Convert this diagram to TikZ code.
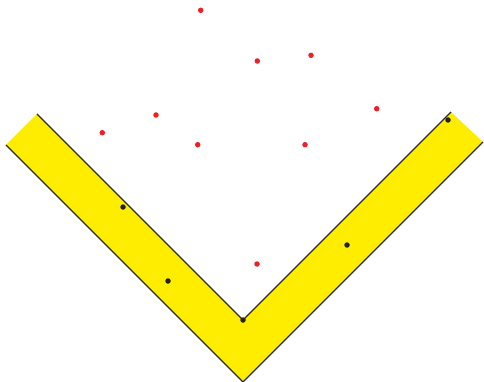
\documentclass[tikz,border=0pt]{standalone}
\begin{document}
\begin{tikzpicture}[x=1pt,y=-1pt,
  band/.style={fill=bandyellow,draw=none},
  edge/.style={draw=edgegray,line width=1.3pt},
  reddot/.style={circle,fill=dotred,inner sep=0pt,minimum size=5.5pt},
  blackdot/.style={circle,fill=dotblack,inner sep=0pt,minimum size=5.5pt}]
\definecolor{bandyellow}{HTML}{FFED00}
\definecolor{edgegray}{HTML}{2A2A2A}
\definecolor{dotred}{HTML}{EE2026}
\definecolor{dotblack}{HTML}{222222}
\useasboundingbox (0,0) rectangle (484,382);
% band corners
\coordinate (ol) at (6,145);
\coordinate (ob) at (243,382);
\coordinate (or) at (483,142);
\coordinate (il) at (37,114);
\coordinate (ib) at (243,320);
\coordinate (ir) at (451,112);
\fill[band] (ol) -- (ob) -- (or) -- (ir) -- (ib) -- (il) -- cycle;
\draw[edge] (ol) -- (ob) -- (or);
\draw[edge] (il) -- (ib) -- (ir);
% black dots
\node[blackdot] (b1) at (123,207) {};
\node[blackdot] (b2) at (168,281) {};
\node[blackdot] (b3) at (243,320) {};
\node[blackdot] (b4) at (347,245) {};
\node[blackdot] (b5) at (448,120) {};
% red dots
\node[reddot] (r1) at (200.7,10.3) {};
\node[reddot] (r2) at (257.3,61) {};
\node[reddot] (r3) at (311,55.3) {};
\node[reddot] (r4) at (376.7,108.7) {};
\node[reddot] (r5) at (156,115) {};
\node[reddot] (r6) at (102.3,132.7) {};
\node[reddot] (r7) at (197.7,144.7) {};
\node[reddot] (r8) at (305,144.7) {};
\node[reddot] (r9) at (257,264) {};
\end{tikzpicture}
\end{document}
